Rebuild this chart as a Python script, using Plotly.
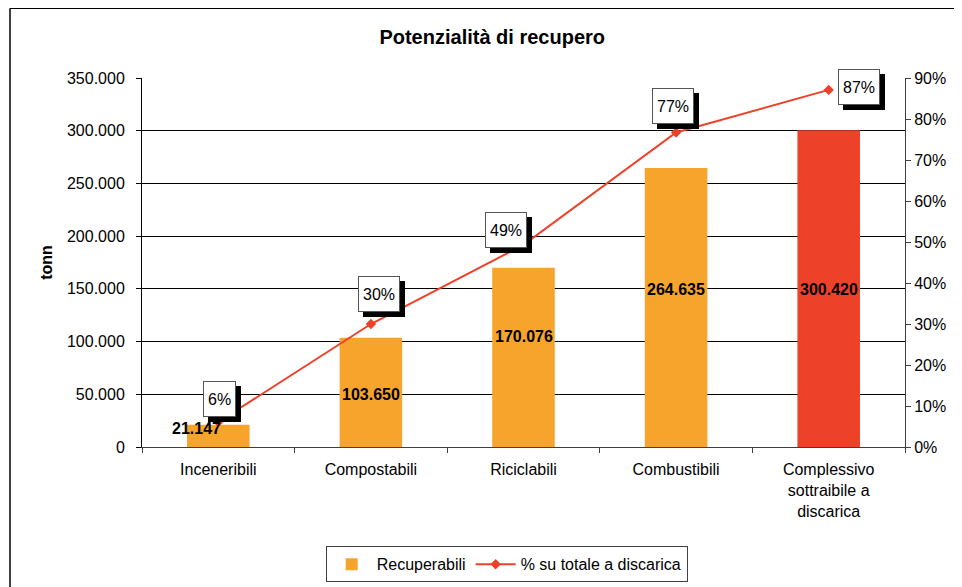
import plotly.graph_objects as go

categories = ["Inceneribili", "Compostabili", "Riciclabili", "Combustibili",
              "Complessivo<br>sottraibile a<br>discarica"]
recuperabili = [21147, 103650, 170076, 264635, 300420]
perc_discarica = [0.061, 0.300, 0.493, 0.767, 0.871]
bar_labels = ["21.147", "103.650", "170.076", "264.635", "300.420"]
perc_labels = ["6%", "30%", "49%", "77%", "87%"]

orange = "#F7A42D"
red = "#EE4129"
font = "Liberation Sans, Arial, sans-serif"

fig = go.Figure()
fig.add_trace(go.Bar(
    x=categories, y=recuperabili, name="Recuperabili",
    marker=dict(color=[orange, orange, orange, orange, red], line=dict(width=0)),
    width=0.41,
))
fig.add_trace(go.Scatter(
    x=categories, y=perc_discarica, name="% su totale a discarica", yaxis="y2",
    mode="lines+markers",
    line=dict(color=red, width=2),
    marker=dict(symbol="diamond", size=8, color=red),
))

# bar value labels (positions)
label_y = [18000, 50000, 105000, 149000, 149000]
label_dx = [-22, 0, 0, 0, 0]
for c, ly, t, dx in zip(categories, label_y, bar_labels, label_dx):
    fig.add_annotation(x=c, y=ly, text="<b>" + t + "</b>", showarrow=False,
                       xshift=dx, font=dict(family=font, size=16, color="black"))

# percentage boxes with drop shadow
pdx = [1, 8, -18, -3, 30]
pdy = [23, 30, 15, 27, 3]
for c, p, t, dx, dy in zip(categories, perc_discarica, perc_labels, pdx, pdy):
    fig.add_annotation(x=c, y=p, yref="y2", text=t, showarrow=False,
                       xshift=dx + 5, yshift=dy - 5, height=26,
                       font=dict(family=font, size=16, color="black"),
                       bgcolor="black", bordercolor="black", borderwidth=1, borderpad=4)
    fig.add_annotation(x=c, y=p, yref="y2", text=t, showarrow=False,
                       xshift=dx, yshift=dy, height=26,
                       font=dict(family=font, size=16, color="black"),
                       bgcolor="white", bordercolor="#555555", borderwidth=1, borderpad=4)

# outer chart border (left and top edges visible)
fig.add_shape(type="line", xref="paper", yref="paper", x0=-0.173, x1=1.2, y0=1.189, y1=1.189,
              line=dict(color="black", width=1.5))
fig.add_shape(type="line", xref="paper", yref="paper", x0=-0.173, x1=-0.173, y0=1.189, y1=-0.5,
              line=dict(color="black", width=1.5))

# page body has an 8px margin, so everything is pulled up/left by 8px
fig.update_layout(
    width=962, height=587,
    margin=dict(l=134, r=65, t=70, b=146),
    paper_bgcolor="white", plot_bgcolor="white",
    separators=",.",
    font=dict(family=font, size=16, color="black"),
    title=dict(text="<b>Potenzialità di recupero</b>", x=0.459, xref="paper", xanchor="center",
               y=0.951, yref="container", yanchor="middle",
               font=dict(family=font, size=20, color="black")),
    showlegend=True,
    legend=dict(orientation="h", x=0.478, xanchor="center", y=-0.318, yanchor="middle",
                bordercolor="#404040", borderwidth=1, bgcolor="white",
                font=dict(family=font, size=16), itemwidth=40),
    xaxis=dict(showline=True, linecolor="#404040", linewidth=1, ticks="outside",
               tickson="boundaries", ticklen=5, tickcolor="#404040", automargin=False,
               ticklabelstandoff=8,
               tickfont=dict(family=font, size=16)),
    yaxis=dict(title=dict(text="<b>tonn</b>", font=dict(family=font, size=16), standoff=10),
               range=[0, 350000], dtick=50000, tickformat=",d", automargin=False,
               showline=True, linecolor="black", linewidth=1, ticks="outside",
               ticklen=5, tickcolor="black", ticklabelstandoff=8,
               showgrid=True, gridcolor="black", gridwidth=1, zeroline=False,
               tickfont=dict(family=font, size=16)),
    yaxis2=dict(overlaying="y", side="right", range=[0, 0.9], dtick=0.1, tickformat=".0%",
                showline=True, linecolor="#404040", linewidth=1, ticks="outside",
                ticklen=5, tickcolor="#404040", showgrid=False, zeroline=False, automargin=False,
                tickfont=dict(family=font, size=16)),
)

fig.write_html("out.html")
